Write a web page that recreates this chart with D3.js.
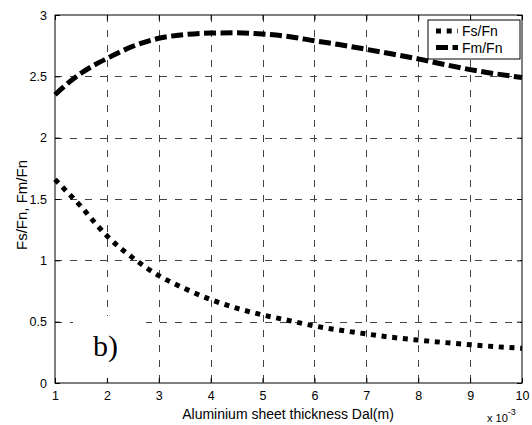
<!DOCTYPE html>
<html>
<head>
<meta charset="utf-8">
<script src="https://cdn.jsdelivr.net/npm/d3@7/dist/d3.min.js"></script>
<style>
  html, body { margin: 0; padding: 0; background: #fff; }
  svg { display: block; }
  text { font-family: Arial, "Liberation Sans", Helvetica, sans-serif; fill: #000; }
</style>
</head>
<body>
<script>
// Aluminium sheet thickness (units of 1e-3 m)
const thickness = [1, 1.25, 1.5, 1.75, 2, 2.5, 3, 3.5, 4, 4.5, 5, 5.5, 6, 6.5, 7, 7.5, 8, 8.5, 9, 9.5, 10];
// Force ratios
const fsFn = [1.66, 1.55, 1.44, 1.315, 1.20, 1.02, 0.875, 0.77, 0.68, 0.61, 0.555, 0.51, 0.465, 0.43, 0.40, 0.372, 0.35, 0.33, 0.312, 0.296, 0.283];
const fmFn = [2.35, 2.445, 2.525, 2.59, 2.645, 2.745, 2.81, 2.84, 2.853, 2.855, 2.845, 2.825, 2.79, 2.757, 2.72, 2.682, 2.642, 2.597, 2.555, 2.52, 2.49];
const seriesNames = ["Fs/Fn", "Fm/Fn"];
const xTicks = [1, 2, 3, 4, 5, 6, 7, 8, 9, 10];
const yTicks = [0, 0.5, 1, 1.5, 2, 2.5, 3];

const W = 532, H = 425;
const m = { left: 55, top: 15, right: 10, bottom: 42 };

const svg = d3.select("body").append("svg").attr("width", W).attr("height", H);

const x = d3.scaleLinear().domain([1, 10]).range([m.left, W - m.right]);
const y = d3.scaleLinear().domain([0, 3]).range([H - m.bottom, m.top]);

// grid
const grid = svg.append("g").attr("stroke", "#444").attr("stroke-width", 1)
  .attr("stroke-dasharray", "7,8").attr("shape-rendering", "crispEdges");
grid.selectAll("line.v").data(xTicks.slice(1, -1)).join("line")
  .attr("x1", d => Math.round(x(d)) + 0.5).attr("x2", d => Math.round(x(d)) + 0.5)
  .attr("y1", y(3)).attr("y2", y(0));
grid.selectAll("line.h").data(yTicks.slice(1, -1)).join("line")
  .attr("y1", d => Math.round(y(d)) + 0.5).attr("y2", d => Math.round(y(d)) + 0.5)
  .attr("x1", x(1)).attr("x2", x(10));

// panel tag with its own white backing
svg.append("rect").attr("x", 73).attr("y", 316).attr("width", 73).attr("height", 62).attr("fill", "#fff");
svg.append("text").attr("x", 93).attr("y", 356)
  .style("font-family", "'Times New Roman', 'Liberation Serif', serif")
  .style("font-size", "30px").text("b)");

// curves
const pts = (vals) => thickness.map((t, i) => [t, vals[i]]);
const line = d3.line().x(d => x(d[0])).y(d => y(d[1])).curve(d3.curveMonotoneX);

svg.append("path").datum(pts(fsFn)).attr("d", line)
  .attr("fill", "none").attr("stroke", "#000").attr("stroke-width", 5)
  .attr("stroke-dasharray", "5,5.7");
svg.append("path").datum(pts(fmFn)).attr("d", line)
  .attr("fill", "none").attr("stroke", "#000").attr("stroke-width", 5)
  .attr("stroke-dasharray", "12,4.5");

// axes: ticks pointing inward on all four sides
const fmt = d => String(d);
const gB = svg.append("g").attr("transform", `translate(0,${y(0)})`)
  .call(d3.axisBottom(x).tickValues(xTicks).tickFormat(fmt).tickSizeInner(-5).tickSizeOuter(0).tickPadding(8));
const gL = svg.append("g").attr("transform", `translate(${x(1)},0)`)
  .call(d3.axisLeft(y).tickValues(yTicks).tickFormat(fmt).tickSizeInner(-5).tickSizeOuter(0).tickPadding(8));
const gT = svg.append("g").attr("transform", `translate(0,${y(3)})`)
  .call(d3.axisTop(x).tickValues(xTicks).tickFormat("").tickSizeInner(-5).tickSizeOuter(0));
const gR = svg.append("g").attr("transform", `translate(${x(10)},0)`)
  .call(d3.axisRight(y).tickValues(yTicks).tickFormat("").tickSizeInner(-5).tickSizeOuter(0));
[gB, gL, gT, gR].forEach(g => {
  g.select(".domain").remove();
  g.selectAll("line").attr("stroke", "#000");
  g.selectAll("text").style("font-size", "12.5px").style("font-family", "Arial, 'Liberation Sans', sans-serif");
});

// plot frame
svg.append("rect").attr("x", x(1)).attr("y", y(3))
  .attr("width", x(10) - x(1)).attr("height", y(0) - y(3))
  .attr("fill", "none").attr("stroke", "#000").attr("stroke-width", 1);

// axis titles
svg.append("text").attr("x", 288).attr("y", 419).attr("text-anchor", "middle")
  .style("font-size", "14px").text("Aluminium sheet thickness Dal(m)");
svg.append("text").attr("transform", "translate(27,205) rotate(-90)").attr("text-anchor", "middle")
  .style("font-size", "15px").text("Fs/Fn, Fm/Fn");

// exponent for the x axis
const expo = svg.append("text").attr("x", 487).attr("y", 422).style("font-size", "11px");
expo.append("tspan").text("x 10");
expo.append("tspan").attr("dy", -7).style("font-size", "9px").text("-3");

// legend
const lg = svg.append("g");
lg.append("rect").attr("x", 428).attr("y", 20).attr("width", 92).attr("height", 39)
  .attr("fill", "#fff").attr("stroke", "#000").attr("stroke-width", 1);
const dashes = ["5,5.7", "12,4.5"];
seriesNames.forEach((name, i) => {
  const yy = 31 + i * 16.5;
  lg.append("line").attr("x1", 436).attr("x2", 458).attr("y1", yy).attr("y2", yy)
    .attr("stroke", "#000").attr("stroke-width", 5).attr("stroke-dasharray", dashes[i]);
  lg.append("text").attr("x", 462).attr("y", yy).attr("dy", "0.36em")
    .style("font-size", "14px").text(name);
});
</script>
</body>
</html>
